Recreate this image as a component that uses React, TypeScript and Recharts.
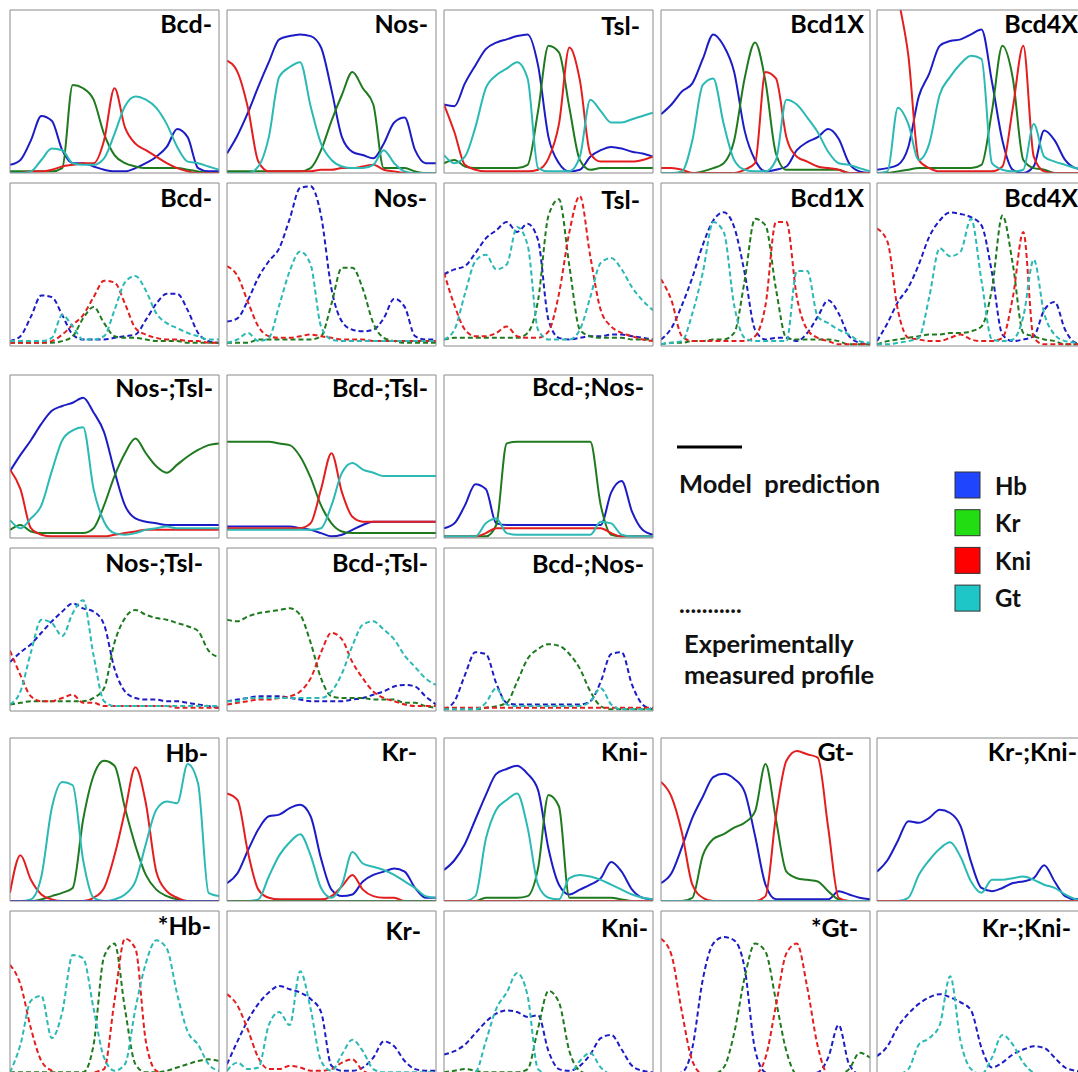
import React from 'react'
import { Line, LineChart, XAxis, YAxis } from 'recharts'

// position along the embryo axis (% of length), shared by every profile
const xGrid = [0, 5, 10, 15, 20, 25, 30, 35, 40, 45, 50, 55, 60, 65, 70, 75, 80, 85, 90, 95, 100]
const xTicks = [0, 10, 20, 30, 40, 50, 60, 70, 80, 90, 100]
const yTicks = [0, 16.667, 33.333, 50, 66.667, 83.333, 100]

interface Profile {
  hb: number[]
  kr: number[]
  kni: number[]
  gt: number[]
}

// ---- single mutants, model ----
const bcdModel: Profile = {
  hb: [5, 8, 20, 35, 32, 14, 6, 6, 4, 2, 1, 1, 3, 6, 10, 16, 27, 22, 3, 1, 1],
  kr: [1, 1, 1, 1, 1, 3, 54, 52, 45, 24, 11, 6, 4, 3, 3, 3, 3, 2, 1, 0, 0],
  kni: [0, 0, 1, 1, 2, 4, 5, 6, 6, 20, 52, 28, 18, 14, 10, 6, 3, 1, 0, 0, 0],
  gt: [0, 0, 1, 8, 15, 14, 6, 5, 5, 9, 24, 41, 47, 45, 40, 30, 16, 7, 6, 4, 2]
}
const nosModel: Profile = {
  hb: [12, 23, 37, 53, 68, 82, 84, 85, 84, 77, 51, 22, 13, 11, 9, 18, 31, 34, 14, 6, 6],
  kr: [1, 1, 1, 1, 1, 1, 1, 1, 3, 14, 32, 48, 62, 52, 42, 3, 3, 3, 1, 0, 0],
  kni: [69, 62, 40, 7, 1, 1, 1, 1, 1, 2, 2, 3, 3, 4, 5, 2, 1, 0, 0, 0, 0],
  gt: [0, 0, 0, 4, 22, 59, 65, 68, 41, 18, 8, 4, 3, 3, 5, 14, 6, 1, 0, 0, 0]
}
const tslModel: Profile = {
  hb: [42, 41, 55, 66, 76, 80, 82, 84, 85, 66, 22, 6, 1, 2, 10, 14, 16, 15, 13, 12, 10],
  kr: [6, 8, 4, 3, 3, 3, 3, 3, 5, 38, 78, 74, 40, 8, 2, 3, 3, 3, 3, 3, 3],
  kni: [42, 25, 5, 2, 1, 1, 1, 1, 1, 2, 9, 30, 77, 57, 12, 7, 7, 7, 7, 8, 10],
  gt: [11, 6, 10, 28, 52, 60, 64, 68, 58, 3, 1, 1, 1, 10, 45, 38, 31, 31, 33, 35, 37]
}
const bcd1xModel: Profile = {
  hb: [36, 42, 50, 55, 70, 85, 78, 62, 26, 8, 1, 2, 4, 14, 19, 22, 27, 21, 6, 1, 0],
  kr: [0, 0, 0, 0, 1, 3, 6, 20, 58, 80, 56, 12, 2, 2, 2, 2, 2, 2, 0, 0, 0],
  kni: [3, 3, 2, 0, 0, 0, 0, 0, 2, 6, 62, 58, 22, 10, 7, 4, 3, 2, 0, 0, 0],
  gt: [0, 0, 1, 20, 54, 58, 30, 8, 2, 1, 1, 8, 45, 42, 34, 25, 13, 6, 5, 3, 1]
}
const bcd4xModel: Profile = {
  hb: [2, 3, 5, 16, 47, 61, 78, 81, 82, 85, 88, 56, 20, 2, 0, 4, 26, 20, 8, 3, 2],
  kr: [0, 0, 1, 2, 3, 3, 3, 3, 3, 3, 5, 38, 78, 58, 8, 3, 2, 0, 0, 0, 0],
  kni: [200, 160, 110, 72, 8, 3, 1, 1, 1, 1, 1, 1, 4, 40, 78, 10, 1, 0, 0, 0, 0],
  gt: [0, 1, 40, 30, 8, 18, 48, 59, 67, 72, 70, 6, 2, 1, 2, 30, 10, 7, 5, 3, 2]
}

// ---- single mutants, measured ----
const bcdExp: Profile = {
  hb: [3, 6, 18, 31, 30, 19, 7, 4, 4, 4, 5, 6, 7, 16, 26, 32, 32, 22, 8, 3, 2],
  kr: [2, 2, 2, 2, 2, 3, 6, 17, 24, 14, 6, 5, 5, 4, 3, 3, 3, 2, 2, 2, 2],
  kni: [2, 2, 2, 2, 3, 7, 13, 19, 30, 40, 39, 26, 11, 7, 5, 4, 4, 3, 3, 2, 2],
  gt: [3, 3, 3, 3, 5, 19, 12, 4, 4, 6, 22, 39, 43, 34, 20, 14, 11, 8, 6, 4, 4]
}
const nosExp: Profile = {
  hb: [15, 17, 28, 42, 52, 60, 78, 97, 98, 80, 35, 15, 10, 9, 10, 17, 29, 24, 6, 4, 4],
  kr: [2, 2, 2, 4, 4, 4, 4, 4, 4, 6, 26, 48, 48, 35, 14, 5, 3, 2, 2, 2, 2],
  kni: [49, 43, 27, 12, 6, 5, 5, 6, 7, 6, 5, 4, 4, 4, 3, 3, 3, 3, 3, 3, 3],
  gt: [2, 4, 8, 3, 5, 25, 46, 58, 50, 12, 4, 3, 3, 3, 3, 3, 3, 3, 3, 3, 3]
}
const tslExp: Profile = {
  hb: [44, 47, 49, 57, 66, 71, 76, 70, 75, 65, 16, 5, 4, 5, 6, 6, 7, 7, 6, 5, 4],
  kr: [4, 5, 5, 5, 5, 5, 5, 5, 8, 28, 80, 90, 49, 10, 6, 5, 5, 5, 4, 4, 4],
  kni: [45, 25, 10, 6, 6, 8, 12, 6, 5, 5, 9, 32, 70, 92, 55, 22, 12, 8, 6, 4, 3],
  gt: [4, 10, 32, 52, 56, 47, 50, 73, 62, 10, 4, 4, 4, 10, 30, 51, 54, 47, 36, 28, 22]
}
const bcd1xExp: Profile = {
  hb: [4, 11, 25, 42, 62, 77, 82, 73, 45, 10, 4, 5, 5, 3, 8, 18, 28, 20, 6, 2, 1],
  kr: [1, 2, 2, 3, 3, 4, 4, 8, 40, 78, 74, 35, 5, 4, 4, 4, 4, 3, 1, 1, 1],
  kni: [41, 28, 6, 3, 3, 3, 3, 3, 3, 6, 25, 76, 76, 30, 10, 5, 3, 1, 1, 1, 1],
  gt: [1, 2, 3, 20, 45, 76, 70, 25, 5, 3, 3, 3, 3, 46, 46, 18, 14, 10, 7, 3, 2]
}
const bcd4xExp: Profile = {
  hb: [3, 14, 27, 36, 50, 67, 77, 82, 81, 79, 74, 45, 7, 3, 4, 6, 22, 27, 10, 2, 1],
  kr: [1, 3, 4, 5, 6, 7, 7, 8, 8, 9, 12, 35, 80, 50, 8, 6, 4, 3, 1, 1, 1],
  kni: [72, 64, 22, 5, 4, 3, 3, 5, 7, 4, 3, 3, 5, 30, 70, 5, 1, 1, 1, 1, 1],
  gt: [1, 1, 2, 3, 5, 30, 60, 55, 58, 78, 40, 4, 3, 4, 18, 53, 20, 7, 3, 2, 1]
}

// ---- double mutants ----
const nosTslModel: Profile = {
  hb: [41, 51, 60, 70, 78, 81, 83, 86, 77, 65, 41, 20, 12, 10, 9, 8, 8, 8, 8, 8, 8],
  kr: [5, 8, 4, 3, 3, 3, 3, 3, 6, 20, 38, 52, 61, 52, 44, 40, 45, 50, 54, 57, 58],
  kni: [42, 30, 6, 2, 1, 1, 1, 1, 1, 1, 2, 3, 4, 5, 5, 5, 5, 5, 5, 5, 5],
  gt: [11, 6, 12, 20, 41, 60, 66, 68, 30, 10, 3, 2, 3, 5, 6, 7, 6, 6, 6, 6, 6]
}
const bcdTslModel: Profile = {
  hb: [7, 7, 7, 7, 7, 7, 7, 6, 5, 3, 1, 2, 5, 8, 10, 10, 10, 10, 10, 10, 10],
  kr: [59, 59, 59, 59, 59, 58, 57, 50, 37, 20, 9, 4, 3, 3, 3, 3, 3, 3, 3, 3, 3],
  kni: [6, 6, 6, 6, 6, 6, 6, 6, 9, 30, 52, 28, 13, 10, 10, 10, 10, 10, 10, 10, 10],
  gt: [5, 5, 5, 5, 5, 5, 5, 5, 5, 6, 20, 40, 46, 42, 40, 38, 38, 38, 38, 38, 38]
}
const bcdNosModel: Profile = {
  hb: [6, 9, 20, 33, 30, 9, 8, 8, 8, 8, 8, 8, 8, 8, 8, 8, 28, 35, 16, 5, 2],
  kr: [1, 1, 1, 1, 1, 8, 58, 59, 59, 59, 59, 59, 59, 59, 59, 20, 2, 1, 1, 1, 1],
  kni: [1, 1, 1, 1, 3, 6, 6, 6, 6, 6, 6, 6, 6, 6, 6, 6, 3, 1, 1, 1, 1],
  gt: [1, 1, 1, 1, 9, 12, 3, 2, 2, 2, 2, 2, 2, 2, 2, 10, 9, 2, 1, 1, 1]
}
const nosTslExp: Profile = {
  hb: [30, 36, 41, 48, 55, 61, 66, 63, 61, 53, 26, 12, 8, 7, 7, 6, 6, 5, 4, 3, 2],
  kr: [4, 5, 6, 6, 6, 6, 6, 6, 8, 14, 42, 57, 62, 59, 57, 56, 54, 52, 49, 37, 33],
  kni: [37, 22, 9, 6, 6, 8, 10, 5, 5, 3, 3, 3, 3, 3, 3, 3, 2, 2, 2, 2, 2],
  gt: [4, 12, 36, 56, 54, 46, 60, 68, 34, 6, 3, 3, 3, 3, 3, 3, 3, 3, 3, 3, 3]
}
const bcdTslExp: Profile = {
  hb: [6, 7, 8, 9, 9, 9, 8, 7, 6, 6, 6, 6, 7, 8, 10, 12, 15, 16, 15, 9, 4],
  kr: [56, 55, 58, 60, 61, 62, 63, 59, 42, 20, 9, 8, 8, 8, 7, 7, 7, 5, 5, 3, 2],
  kni: [4, 5, 6, 7, 7, 8, 9, 12, 20, 36, 48, 44, 30, 20, 12, 8, 6, 4, 3, 3, 3],
  gt: [6, 6, 8, 8, 8, 8, 8, 8, 8, 8, 12, 23, 40, 53, 55, 50, 44, 34, 27, 20, 16]
}
const bcdNosExp: Profile = {
  hb: [1, 6, 22, 36, 35, 17, 5, 4, 4, 4, 4, 4, 4, 4, 6, 18, 35, 36, 16, 4, 1],
  kr: [1, 1, 1, 1, 2, 3, 5, 18, 32, 38, 41, 40, 35, 26, 12, 3, 1, 1, 1, 1, 1],
  kni: [2, 2, 2, 2, 2, 2, 2, 2, 2, 2, 2, 2, 2, 2, 2, 2, 2, 2, 2, 2, 2],
  gt: [1, 1, 1, 1, 5, 14, 4, 3, 3, 3, 3, 3, 3, 3, 6, 14, 4, 1, 1, 1, 1]
}

// ---- gap gene mutants ----
const hbModel: Profile = {
  hb: [0, 0, 0, 0, 0, 0, 0, 0, 0, 0, 0, 0, 0, 0, 0, 0, 0, 0, 0, 0, 0],
  kr: [0, 0, 0, 1, 3, 5, 8, 50, 77, 86, 83, 57, 34, 16, 7, 3, 1, 0, 0, 0, 0],
  kni: [5, 28, 13, 4, 1, 0, 0, 0, 2, 8, 28, 55, 82, 60, 18, 6, 2, 0, 0, 0, 0],
  gt: [0, 0, 1, 15, 57, 73, 71, 25, 2, 0, 1, 4, 12, 35, 56, 61, 60, 84, 72, 5, 3]
}
const krModel: Profile = {
  hb: [11, 17, 31, 44, 52, 53, 57, 59, 52, 26, 7, 3, 4, 12, 16, 18, 20, 18, 8, 2, 2],
  kr: [0, 0, 0, 0, 0, 0, 0, 0, 0, 0, 0, 0, 0, 0, 0, 0, 0, 0, 0, 0, 0],
  kni: [66, 62, 30, 7, 2, 1, 1, 1, 1, 1, 3, 9, 16, 7, 3, 2, 2, 0, 0, 0, 0],
  gt: [0, 0, 0, 1, 15, 28, 36, 41, 28, 8, 2, 10, 30, 23, 21, 19, 16, 12, 8, 3, 2]
}
const kniModel: Profile = {
  hb: [19, 25, 35, 50, 65, 78, 81, 83, 78, 68, 32, 10, 4, 7, 10, 14, 24, 18, 7, 2, 1],
  kr: [0, 0, 0, 0, 2, 2, 2, 2, 3, 20, 65, 58, 2, 2, 2, 2, 2, 1, 0, 0, 0],
  kni: [0, 0, 0, 0, 0, 0, 0, 0, 0, 0, 0, 0, 0, 0, 0, 0, 0, 0, 0, 0, 0],
  gt: [0, 0, 0, 3, 38, 56, 62, 66, 45, 10, 2, 1, 14, 16, 15, 13, 10, 7, 4, 2, 1]
}
const gtModel: Profile = {
  hb: [11, 17, 33, 51, 64, 76, 78, 75, 67, 40, 10, 1, 1, 1, 1, 1, 1, 6, 4, 2, 1],
  kr: [0, 0, 0, 2, 28, 38, 41, 45, 48, 55, 84, 50, 18, 14, 13, 12, 6, 1, 0, 0, 0],
  kni: [73, 64, 42, 10, 2, 0, 0, 0, 0, 0, 3, 52, 86, 92, 90, 88, 45, 2, 0, 0, 0],
  gt: [0, 0, 0, 0, 0, 0, 0, 0, 0, 0, 0, 0, 0, 0, 0, 0, 0, 0, 0, 0, 0]
}
const krKniModel: Profile = {
  hb: [18, 25, 37, 49, 48, 51, 56, 54, 46, 24, 8, 6, 8, 11, 12, 14, 22, 12, 3, 1, 1],
  kr: [0, 0, 0, 0, 0, 0, 0, 0, 0, 0, 0, 0, 0, 0, 0, 0, 0, 0, 0, 0, 0],
  kni: [0, 0, 0, 0, 0, 0, 0, 0, 0, 0, 0, 0, 0, 0, 0, 0, 0, 0, 0, 0, 0],
  gt: [0, 0, 0, 2, 16, 25, 32, 36, 27, 12, 5, 13, 13, 14, 15, 13, 10, 8, 4, 1, 0]
}
const hbExp: Profile = {
  hb: [0, 0, 0, 0, 0, 0, 0, 0, 0, 0, 0, 0, 0, 0, 0, 0, 0, 0, 0, 0, 0],
  kr: [1, 1, 1, 1, 1, 1, 1, 1, 18, 72, 80, 40, 6, 1, 1, 2, 4, 6, 8, 9, 8],
  kni: [67, 55, 28, 8, 2, 0, 0, 0, 1, 3, 45, 83, 77, 20, 2, 0, 0, 0, 0, 0, 0],
  gt: [1, 18, 45, 48, 22, 38, 73, 71, 40, 10, 2, 6, 40, 68, 82, 77, 49, 26, 18, 6, 2]
}
const krExp: Profile = {
  hb: [6, 20, 33, 43, 50, 54, 52, 50, 46, 38, 5, 2, 2, 4, 10, 20, 17, 8, 3, 2, 2],
  kr: [0, 0, 0, 0, 0, 0, 0, 0, 0, 0, 0, 0, 0, 0, 0, 0, 0, 0, 0, 0, 0],
  kni: [49, 42, 27, 10, 3, 3, 5, 4, 2, 2, 3, 7, 9, 2, 0, 0, 0, 0, 0, 0, 0],
  gt: [2, 7, 3, 4, 30, 38, 30, 63, 40, 8, 2, 12, 21, 14, 3, 1, 1, 1, 1, 1, 1]
}
const kniExp: Profile = {
  hb: [12, 14, 18, 25, 32, 37, 39, 38, 35, 36, 14, 3, 2, 5, 12, 22, 24, 15, 5, 2, 1],
  kr: [1, 2, 3, 2, 1, 1, 1, 1, 3, 28, 51, 44, 14, 2, 0, 0, 0, 0, 0, 0, 0],
  kni: [0, 0, 0, 0, 0, 0, 0, 0, 0, 0, 0, 0, 0, 0, 0, 0, 0, 0, 0, 0, 0],
  gt: [0, 0, 0, 1, 20, 40, 50, 62, 48, 3, 0, 0, 0, 8, 13, 4, 0, 0, 0, 0, 0]
}
const gtExp: Profile = {
  hb: [0, 0, 1, 16, 58, 80, 84, 82, 65, 15, 1, 0, 0, 0, 0, 1, 10, 30, 6, 0, 0],
  kr: [0, 0, 0, 0, 0, 0, 4, 25, 59, 80, 75, 45, 14, 0, 0, 0, 0, 0, 3, 13, 10],
  kni: [83, 73, 38, 8, 0, 0, 0, 0, 0, 0, 10, 42, 74, 80, 53, 17, 0, 0, 0, 0, 0],
  gt: [0, 0, 0, 0, 0, 0, 0, 0, 0, 0, 0, 0, 0, 0, 0, 0, 0, 0, 0, 0, 0]
}
const krKniExp: Profile = {
  hb: [11, 17, 29, 37, 43, 47, 49, 47, 44, 39, 16, 4, 7, 12, 15, 17, 16, 10, 4, 2, 1],
  kr: [0, 0, 0, 0, 0, 0, 0, 0, 0, 0, 0, 0, 0, 0, 0, 0, 0, 0, 0, 0, 0],
  kni: [0, 0, 0, 0, 0, 0, 0, 0, 0, 0, 0, 0, 0, 0, 0, 0, 0, 0, 0, 0, 0],
  gt: [0, 0, 0, 3, 18, 22, 30, 60, 20, 3, 0, 10, 24, 18, 7, 1, 0, 0, 0, 0, 0]
}

type GeneKey = 'hb' | 'kr' | 'kni' | 'gt'

const genes: { key: GeneKey; label: string; line: string; swatch: string }[] = [
  { key: 'hb', label: 'Hb', line: '#1c1cc6', swatch: '#1f45ff' },
  { key: 'kr', label: 'Kr', line: '#1f7a1f', swatch: '#22dd11' },
  { key: 'kni', label: 'Kni', line: '#e41e1e', swatch: '#ff0000' },
  { key: 'gt', label: 'Gt', line: '#2bb9b5', swatch: '#1fc6c8' }
]

// plot area; the frame sits 1px outside it, so the framed box is 209 x 163
const PANEL_W = 207
const PANEL_H = 161
const FRAME = '#8a8a8a'
const FONT = 'Lato, "Open Sans", sans-serif'
const colLeft = [10, 227, 444, 661, 877]
const rowTop = [10, 183, 375, 548, 738, 911]

interface PanelSpec {
  title: string
  profile: Profile
  dashed: boolean
  col: number
  row: number
  titleX: number
  titleY: number
}

const panels: PanelSpec[] = [
  { title: 'Bcd-', profile: bcdModel, dashed: false, col: 0, row: 0, titleX: 212, titleY: 33 },
  { title: 'Nos-', profile: nosModel, dashed: false, col: 1, row: 0, titleX: 428, titleY: 33 },
  { title: 'Tsl-', profile: tslModel, dashed: false, col: 2, row: 0, titleX: 640, titleY: 35 },
  { title: 'Bcd1X', profile: bcd1xModel, dashed: false, col: 3, row: 0, titleX: 864, titleY: 33 },
  { title: 'Bcd4X', profile: bcd4xModel, dashed: false, col: 4, row: 0, titleX: 1078, titleY: 33 },
  { title: 'Bcd-', profile: bcdExp, dashed: true, col: 0, row: 1, titleX: 212, titleY: 207 },
  { title: 'Nos-', profile: nosExp, dashed: true, col: 1, row: 1, titleX: 427, titleY: 207 },
  { title: 'Tsl-', profile: tslExp, dashed: true, col: 2, row: 1, titleX: 640, titleY: 209 },
  { title: 'Bcd1X', profile: bcd1xExp, dashed: true, col: 3, row: 1, titleX: 864, titleY: 207 },
  { title: 'Bcd4X', profile: bcd4xExp, dashed: true, col: 4, row: 1, titleX: 1078, titleY: 207 },
  { title: 'Nos-;Tsl-', profile: nosTslModel, dashed: false, col: 0, row: 2, titleX: 213, titleY: 397 },
  { title: 'Bcd-;Tsl-', profile: bcdTslModel, dashed: false, col: 1, row: 2, titleX: 428, titleY: 397 },
  { title: 'Bcd-;Nos-', profile: bcdNosModel, dashed: false, col: 2, row: 2, titleX: 644, titleY: 396 },
  { title: 'Nos-;Tsl-', profile: nosTslExp, dashed: true, col: 0, row: 3, titleX: 203, titleY: 572 },
  { title: 'Bcd-;Tsl-', profile: bcdTslExp, dashed: true, col: 1, row: 3, titleX: 428, titleY: 572 },
  { title: 'Bcd-;Nos-', profile: bcdNosExp, dashed: true, col: 2, row: 3, titleX: 644, titleY: 573 },
  { title: 'Hb-', profile: hbModel, dashed: false, col: 0, row: 4, titleX: 208, titleY: 762 },
  { title: 'Kr-', profile: krModel, dashed: false, col: 1, row: 4, titleX: 417, titleY: 761 },
  { title: 'Kni-', profile: kniModel, dashed: false, col: 2, row: 4, titleX: 648, titleY: 761 },
  { title: 'Gt-', profile: gtModel, dashed: false, col: 3, row: 4, titleX: 854, titleY: 761 },
  { title: 'Kr-;Kni-', profile: krKniModel, dashed: false, col: 4, row: 4, titleX: 1077, titleY: 761 },
  { title: '*Hb-', profile: hbExp, dashed: true, col: 0, row: 5, titleX: 211, titleY: 935 },
  { title: 'Kr-', profile: krExp, dashed: true, col: 1, row: 5, titleX: 421, titleY: 940 },
  { title: 'Kni-', profile: kniExp, dashed: true, col: 2, row: 5, titleX: 648, titleY: 937 },
  { title: '*Gt-', profile: gtExp, dashed: true, col: 3, row: 5, titleX: 858, titleY: 937 },
  { title: 'Kr-;Kni-', profile: krKniExp, dashed: true, col: 4, row: 5, titleX: 1071, titleY: 937 }
]

function ProfilePanel({ spec }: { spec: PanelSpec }) {
  const { profile, dashed } = spec
  const rows = xGrid.map((x, i) => ({
    x,
    hb: profile.hb[i],
    kr: profile.kr[i],
    kni: profile.kni[i],
    gt: profile.gt[i]
  }))
  // absent genes sit on the axis and were drawn last in the original
  const present = genes.filter((g) => Math.max(...profile[g.key]) > 0)
  const absent = genes.filter((g) => Math.max(...profile[g.key]) === 0)
  const axisProps = {
    type: 'number' as const,
    allowDataOverflow: true,
    tick: false,
    mirror: true,
    tickSize: 3,
    axisLine: { stroke: FRAME },
    tickLine: { stroke: FRAME }
  }

  return (
    <div style={{ position: 'absolute', left: colLeft[spec.col] - 1, top: rowTop[spec.row] - 1 }}>
      <LineChart
        width={PANEL_W + 4}
        height={PANEL_H + 4}
        data={rows}
        margin={{ top: 1, right: 1, bottom: 1, left: 1 }}
      >
        <XAxis xAxisId="b" dataKey="x" domain={[0, 100]} ticks={xTicks} height={1} {...axisProps} />
        <XAxis xAxisId="t" orientation="top" dataKey="x" domain={[0, 100]} ticks={xTicks} height={1} {...axisProps} />
        <YAxis yAxisId="l" domain={[0, 100]} ticks={yTicks} width={1} {...axisProps} />
        <YAxis yAxisId="r" orientation="right" domain={[0, 100]} ticks={yTicks} width={1} {...axisProps} />
        {[...present, ...absent].map((g) => (
          <Line
            key={g.key}
            xAxisId="b"
            yAxisId="l"
            dataKey={g.key}
            type="monotone"
            stroke={g.line}
            strokeWidth={2}
            strokeDasharray={dashed ? '5 3' : undefined}
            dot={false}
            activeDot={false}
            isAnimationActive={false}
          />
        ))}
      </LineChart>
    </div>
  )
}

function Overlay() {
  return (
    <svg
      width={1078}
      height={1072}
      style={{ position: 'absolute', left: 0, top: 0, pointerEvents: 'none' }}
      fontFamily={FONT}
      fontWeight={700}
    >
      {panels.map((p, i) => (
        <text key={i} x={p.titleX} y={p.titleY} textAnchor="end" fontSize={25} fill="#000">
          {p.title}
        </text>
      ))}
      <line x1={677} x2={742} y1={447} y2={447} stroke="#000" strokeWidth={3} />
      <text x={679} y={493} fontSize={25.5} fill="#111" style={{ whiteSpace: 'pre' }}>
        {'Model  prediction'}
      </text>
      <text x={679} y={613} fontSize={24} fill="#111">
        ...........
      </text>
      <text x={684} y={653} fontSize={25.5} fill="#111">
        Experimentally
      </text>
      <text x={684} y={684} fontSize={25.5} fill="#111">
        measured profile
      </text>
      {genes.map((g, i) => (
        <g key={g.key}>
          <rect x={955} y={472 + i * 37.7} width={25} height={26} fill={g.swatch} stroke="#333" strokeWidth={1} />
          <text x={995} y={495 + i * 37.3} fontSize={24} fill="#111">
            {g.label}
          </text>
        </g>
      ))}
    </svg>
  )
}

export default function App() {
  return (
    <div
      style={{
        position: 'absolute',
        left: 0,
        top: 0,
        width: 1078,
        height: 1072,
        overflow: 'hidden',
        background: '#fff'
      }}
    >
      {panels.map((p, i) => (
        <ProfilePanel key={i} spec={p} />
      ))}
      <Overlay />
    </div>
  )
}
